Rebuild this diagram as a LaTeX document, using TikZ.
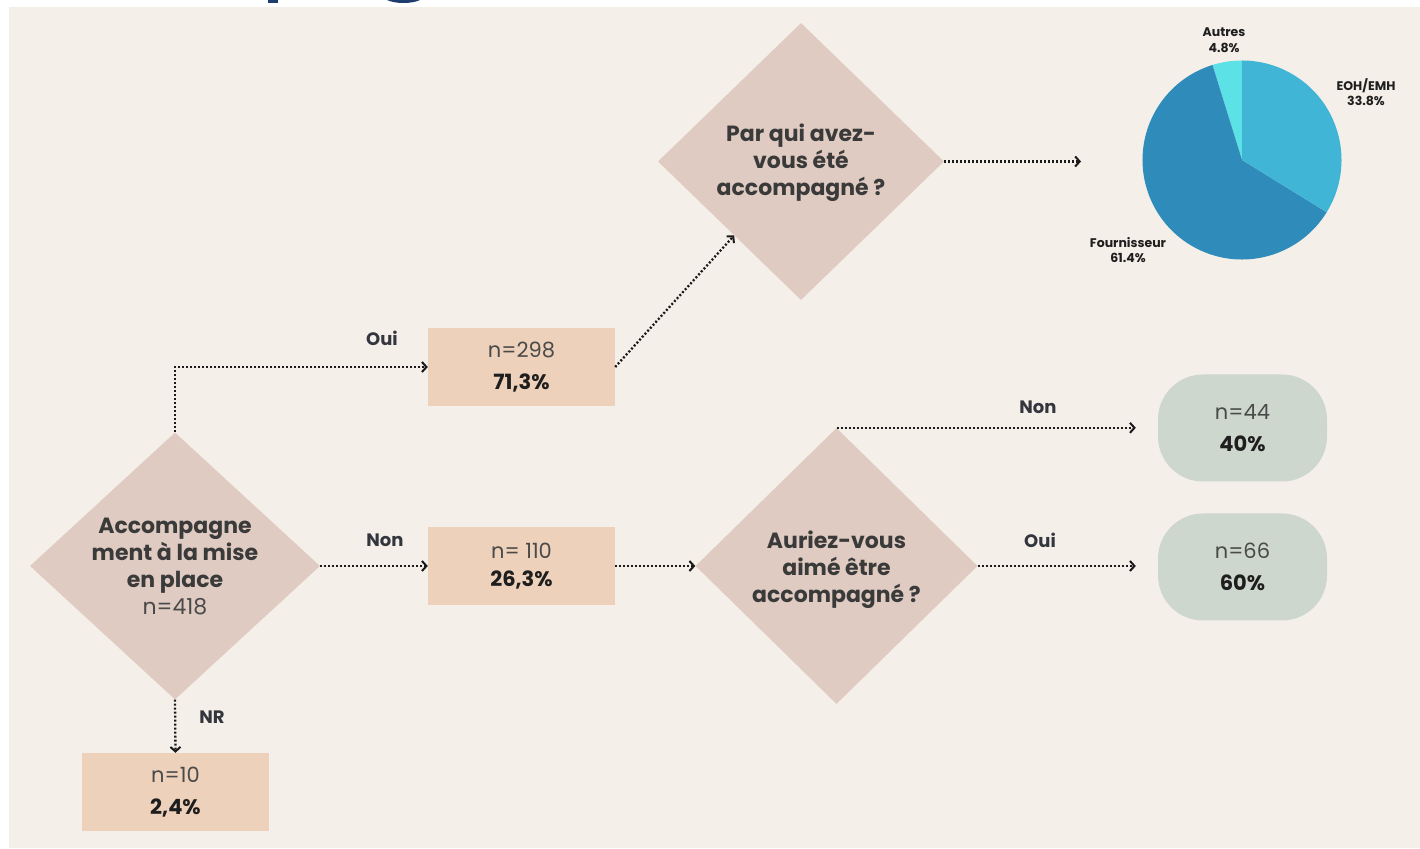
\documentclass[tikz,border=0pt]{standalone}
\usepackage{fontspec}
\setmainfont{Poppins}
\usetikzlibrary{shapes.geometric,arrows.meta}
\definecolor{bg}{HTML}{F4EFE9}
\definecolor{diacol}{HTML}{DFCBC1}
\definecolor{boxcol}{HTML}{EDD1BA}
\definecolor{grn}{HTML}{CDD7CD}
\definecolor{txt}{HTML}{3A3A3A}
\definecolor{ntxt}{HTML}{4A4A4A}
\definecolor{ptxt}{HTML}{1E1E1E}
\definecolor{labc}{HTML}{33363D}
\definecolor{arrc}{HTML}{1A1A1A}
\definecolor{titlec}{HTML}{1F3C6E}
\definecolor{pieA}{HTML}{5CE1E6}
\definecolor{pieF}{HTML}{2E8BBA}
\definecolor{pieE}{HTML}{41B5D5}
\begin{document}
\begin{tikzpicture}[x=1pt,y=1pt,
  dia/.style={diamond, fill=diacol, draw=none, inner sep=0pt},
  dtext/.style={align=center, text=txt, font=\fontsize{22}{27}\selectfont\bfseries},
  box/.style={rectangle, fill=boxcol, draw=none, minimum width=187pt, minimum height=78pt, inner sep=0pt, align=center, font=\fontsize{21}{32}\selectfont},
  rbox/.style={rectangle, rounded corners=45pt, fill=grn, draw=none, minimum width=169pt, minimum height=107pt, inner sep=0pt, align=center, font=\fontsize{21}{32}\selectfont},
  conn/.style={draw=arrc, line width=2.3pt, dash pattern=on 2pt off 2pt, -{Straight Barb[length=4.5pt,width=10pt,line width=2pt]}},
  lab/.style={text=labc, font=\fontsize{18}{20}\selectfont\bfseries},
  plab/.style={text=ptxt, align=center, font=\fontsize{12.5}{15.5}\selectfont\bfseries}
]
\useasboundingbox (0,0) rectangle (1420,848);
\fill[white] (0,0) rectangle (1420,848);
\fill[bg] (9,0) rectangle (1420,841);
% cut-off title fragment
\fill[titlec] (268,848) rectangle (278,845);
\fill[titlec] (387,848) .. controls (395,844) and (412,844) .. (420,848) -- cycle;

% diamonds
\node[dia, minimum width=290pt, minimum height=267pt] (d1) at (175,282) {};
\node[dtext] (t1) at (175,281) {Accompagne\\ment à la mise\\en place\\{\mdseries\color{ntxt}n=418}};
\node[dia, minimum width=286pt, minimum height=277pt] (d2) at (801,686.5) {};
\node[dtext] (t2) at (801,685) {Par qui avez-\\vous été\\accompagné ?};
\node[dia, minimum width=282pt, minimum height=276pt] (d3) at (836.5,282) {};
\node[dtext] (t3) at (836.5,278) {Auriez-vous\\aimé être\\accompagné ?};

% boxes
\node[box] (n298) at (521.5,481) {{\color{ntxt}n=298}\\{\bfseries\color{ptxt}71,3\%}};
\node[box] (n110) at (521.5,282) {{\color{ntxt}n= 110}\\[-4pt]{\bfseries\color{ptxt}26,3\%}};
\node[box] (n10) at (175.5,56) {{\color{ntxt}n=10}\\{\bfseries\color{ptxt}2,4\%}};
\node[rbox] (n44) at (1242.5,420) {{\color{ntxt}n=44}\\{\bfseries\color{ptxt}40\%}};
\node[rbox] (n66) at (1242.5,281) {{\color{ntxt}n=66}\\{\bfseries\color{ptxt}60\%}};

% pie
\coordinate (pc) at (1242,688);
\fill[pieA] (pc) -- ++(90:99.5pt) arc[start angle=90, end angle=107.28, radius=99.5pt] -- cycle;
\fill[pieF] (pc) -- ++(107.28:99.5pt) arc[start angle=107.28, end angle=328.32, radius=99.5pt] -- cycle;
\fill[pieE] (pc) -- ++(328.32:99.5pt) arc[start angle=328.32, end angle=450, radius=99.5pt] -- cycle;
\node[plab] (pa) at (1224,808) {Autres\\4.8\%};
\node[plab] (pe) at (1366,756) {EOH/EMH\\33.8\%};
\node[plab] (pf) at (1128,598) {Fournisseur\\61.4\%};

% connectors
\coordinate (c5) at (1081,686.5);
\draw[conn] (d1.north) |- (n298.west);
\draw[conn] (d1.east) -- (n110.west);
\draw[conn] (d1.south) -- (n10.north);
\draw[conn] (n298.east) -- (d2);
\draw[conn] (d2.east) -- (c5);
\draw[conn] (n110.east) -- (d3.west);
\draw[conn, shorten >=22pt] (d3.north) -- (d3.north -| n44.west);
\draw[conn, shorten >=22pt] (d3.east) -- (d3.east -| n66.west);

% labels
\node[lab] (l1) at (382,510) {Oui};
\node[lab] (l2) at (385,308) {Non};
\node[lab] (l3) at (212,131) {NR};
\node[lab] (l4) at (1038,441) {Non};
\node[lab] (l5) at (1040,308) {Oui};
\end{tikzpicture}
\end{document}
